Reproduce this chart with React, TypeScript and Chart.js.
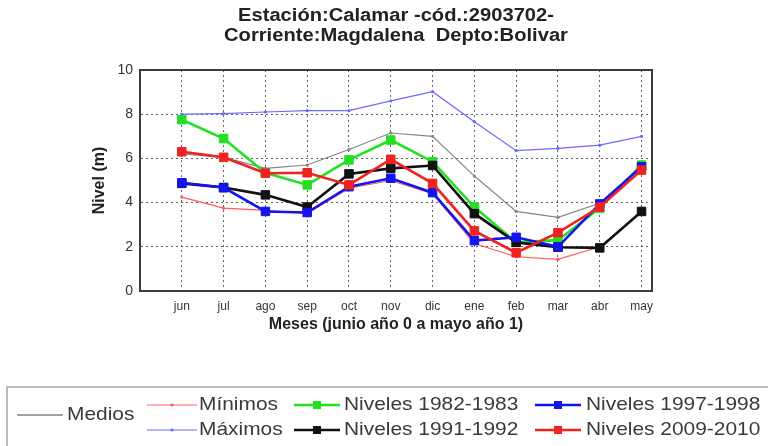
import React, { useEffect, useRef } from 'react';
import { Chart, registerables } from 'chart.js';

Chart.register(...registerables);

const months = ['jun', 'jul', 'ago', 'sep', 'oct', 'nov', 'dic', 'ene', 'feb', 'mar', 'abr', 'may'];
const medios = [6.2, 6.05, 5.55, 5.7, 6.4, 7.15, 7.0, 5.2, 3.6, 3.33, 3.97, 5.62];
const minimos = [4.25, 3.75, 3.65, 3.5, 4.65, 5.0, 4.4, 2.15, 1.55, 1.43, 2.0, 3.6];
const maximos = [8.0, 8.03, 8.1, 8.16, 8.16, 8.6, 9.02, 7.66, 6.35, 6.45, 6.6, 7.0];
const niveles1982 = [7.75, 6.9, 5.35, 4.8, 5.93, 6.83, 5.85, 3.8, 2.2, 2.3, 3.75, 5.7];
const niveles1991 = [4.87, 4.68, 4.35, 3.8, 5.3, 5.55, 5.68, 3.5, 2.2, 1.98, 1.95, 3.6];
const niveles1997 = [4.9, 4.68, 3.6, 3.55, 4.72, 5.1, 4.45, 2.28, 2.43, 2.0, 3.94, 5.62];
const niveles2009 = [6.3, 6.05, 5.33, 5.35, 4.8, 5.96, 4.87, 2.72, 1.73, 2.64, 3.8, 5.47];
const yTicks = [0, 2, 4, 6, 8, 10];

const titleLines = ['Estación:Calamar -cód.:2903702-', 'Corriente:Magdalena  Depto:Bolivar'];
const FONT = '"Liberation Sans", Arial, sans-serif';

const C = {
  medios: '#858585',
  minimos: '#ff5a5a',
  maximos: '#6a6aff',
  g82: '#22e022',
  k91: '#111111',
  b97: '#1414ee',
  r09: '#f02222',
};

function pts(values: number[]) {
  return values.map((v, i) => ({ x: i + 1, y: v }));
}

function drawText(ctx: CanvasRenderingContext2D, t: string, x: number, y: number, font: string, sx: number, align: CanvasTextAlign, color: string) {
  ctx.save();
  ctx.translate(x, y);
  ctx.scale(sx, 1);
  ctx.font = font;
  ctx.fillStyle = color;
  ctx.textAlign = align;
  ctx.textBaseline = 'middle';
  ctx.fillText(t, 0, 0);
  ctx.restore();
}

function sample(ctx: CanvasRenderingContext2D, x1: number, x2: number, y: number, color: string, w: number, marker: 'none' | 'dot' | 'square') {
  ctx.save();
  ctx.strokeStyle = color;
  ctx.lineWidth = w;
  ctx.beginPath();
  ctx.moveTo(x1, y);
  ctx.lineTo(x2, y);
  ctx.stroke();
  const cx = (x1 + x2) / 2;
  ctx.fillStyle = color;
  if (marker === 'dot') {
    ctx.beginPath();
    ctx.arc(cx, y, 1.6, 0, Math.PI * 2);
    ctx.fill();
  } else if (marker === 'square') {
    ctx.fillRect(cx - 4, y - 4, 8, 8);
  }
  ctx.restore();
}

const decor = {
  id: 'decor',
  afterDraw(chart: any) {
    const { ctx, chartArea: a } = chart;
    ctx.save();
    ctx.strokeStyle = '#3c3c3c';
    ctx.lineWidth = 2;
    ctx.strokeRect(a.left, a.top, a.right - a.left, a.bottom - a.top);

    const cx = (a.left + a.right) / 2;
    drawText(ctx, titleLines[0], cx, 16, `bold 18px ${FONT}`, 1.12, 'center', '#222');
    drawText(ctx, titleLines[1], cx, 36, `bold 18px ${FONT}`, 1.12, 'center', '#222');

    // legend box
    ctx.strokeStyle = '#a8a8a8';
    ctx.lineWidth = 1.5;
    ctx.strokeRect(7, 387, 800, 100);

    const lf = `19px ${FONT}`;
    const tc = '#3a3a3a';
    const r1 = 405;
    const r2 = 430;
    sample(ctx, 17, 63, 415, C.medios, 1.5, 'none');
    drawText(ctx, 'Medios', 67, 415, lf, 1.1, 'left', tc);
    sample(ctx, 147, 197, r1, C.minimos, 1.2, 'dot');
    drawText(ctx, 'Mínimos', 199, r1, lf, 1.1, 'left', tc);
    sample(ctx, 147, 197, r2, C.maximos, 1.2, 'dot');
    drawText(ctx, 'Máximos', 199, r2, lf, 1.1, 'left', tc);
    sample(ctx, 294, 340, r1, C.g82, 2.5, 'square');
    drawText(ctx, 'Niveles 1982-1983', 344, r1, lf, 1.1, 'left', tc);
    sample(ctx, 294, 340, r2, C.k91, 2.5, 'square');
    drawText(ctx, 'Niveles 1991-1992', 344, r2, lf, 1.1, 'left', tc);
    sample(ctx, 535, 581, r1, C.b97, 2.5, 'square');
    drawText(ctx, 'Niveles 1997-1998', 586, r1, lf, 1.1, 'left', tc);
    sample(ctx, 535, 581, r2, C.r09, 2.5, 'square');
    drawText(ctx, 'Niveles 2009-2010', 586, r2, lf, 1.1, 'left', tc);
    ctx.restore();
  },
};

export default function App() {
  const ref = useRef<HTMLCanvasElement | null>(null);
  useEffect(() => {
    if (!ref.current) return;
    const thin = (label: string, data: number[], color: string, order: number) => ({
      label,
      data: pts(data),
      borderColor: color,
      backgroundColor: color,
      borderWidth: 1.2,
      pointRadius: 1.6,
      pointBorderWidth: 0,
      pointStyle: 'circle',
      order,
    });
    const thick = (label: string, data: number[], color: string, order: number) => ({
      label,
      data: pts(data),
      borderColor: color,
      backgroundColor: color,
      borderWidth: 2.6,
      pointRadius: 6,
      pointBorderWidth: 1,
      pointBorderColor: color,
      pointStyle: 'rect',
      order,
    });
    const chart = new Chart(ref.current, {
      type: 'line',
      data: {
        datasets: [
          thin('Medios', medios, C.medios, 6),
          thin('Mínimos', minimos, C.minimos, 5),
          thin('Máximos', maximos, C.maximos, 4),
          thick('Niveles 1982-1983', niveles1982, C.g82, 3),
          thick('Niveles 1991-1992', niveles1991, C.k91, 2),
          thick('Niveles 1997-1998', niveles1997, C.b97, 1),
          thick('Niveles 2009-2010', niveles2009, C.r09, 0),
        ] as any,
      },
      options: {
        responsive: false,
        animation: false,
        layout: { padding: { left: 80, right: 116, top: 70, bottom: 110 } },
        plugins: { legend: { display: false }, title: { display: false }, tooltip: { enabled: false } },
        scales: {
          x: {
            type: 'linear',
            min: 0,
            max: 12.25,
            afterFit: (s: any) => { s.height = 45; },
            afterBuildTicks: (s: any) => { s.ticks = months.map((_, i) => ({ value: i + 1 })); },
            ticks: {
              callback: (v: any) => months[Math.round(Number(v)) - 1] ?? '',
              font: { family: FONT, size: 12 },
              color: '#333',
              padding: 8,
              maxRotation: 0,
              autoSkip: false,
            },
            grid: { color: 'rgba(70,70,70,0.85)', lineWidth: 1, drawTicks: false },
            border: { display: true, color: '#3c3c3c', width: 2, dash: [2, 3] },
            title: {
              display: true,
              text: 'Meses (junio año 0 a mayo año 1)',
              font: { family: FONT, size: 16, weight: 'bold' },
              color: '#222',
              padding: { top: 0, bottom: 2 },
            },
          },
          y: {
            min: 0,
            max: 10,
            afterFit: (s: any) => { s.width = 60; },
            afterBuildTicks: (s: any) => { s.ticks = yTicks.map((v) => ({ value: v })); },
            ticks: {
              font: { family: FONT, size: 14 },
              color: '#333',
              padding: 7,
            },
            grid: { color: 'rgba(70,70,70,0.85)', lineWidth: 1, drawTicks: false },
            border: { display: true, color: '#3c3c3c', width: 2, dash: [2, 3] },
            title: {
              display: true,
              text: 'Nivel (m)',
              font: { family: FONT, size: 16, weight: 'bold' },
              color: '#222',
              padding: { top: 10, bottom: 0 },
            },
          },
        },
      } as any,
      plugins: [decor],
    });
    return () => chart.destroy();
  }, []);
  return (
    <div style={{ position: 'fixed', left: 0, top: 0, width: 768, height: 446, background: '#fff' }}>
      <canvas ref={ref} width={768} height={446} style={{ width: 768, height: 446, display: 'block' }} />
    </div>
  );
}
